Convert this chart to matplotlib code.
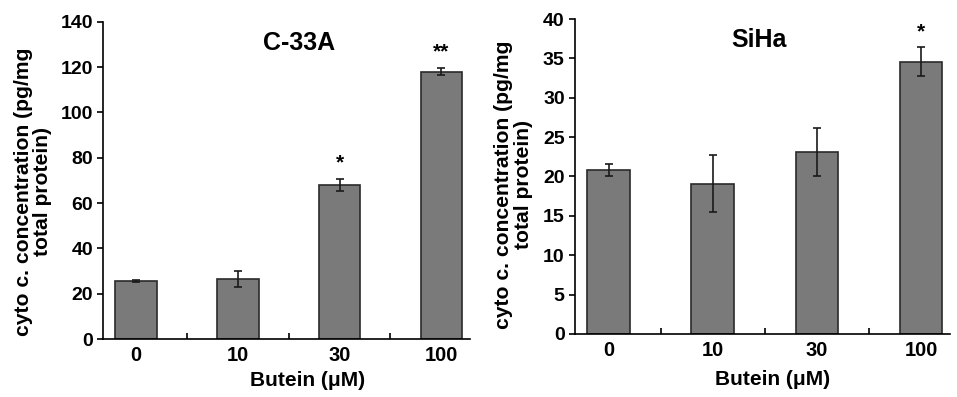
import numpy as np
import matplotlib.pyplot as plt

plt.rcParams['font.family'] = ['Liberation Sans', 'DejaVu Sans']
plt.rcParams['font.weight'] = 'bold'

doses = ["0", "10", "30", "100"]

c33a_mean = [25.5, 26.5, 68.0, 118.0]
c33a_err = [0.5, 3.5, 2.5, 1.5]
c33a_sig = ["", "", "*", "**"]

siha_mean = [20.8, 19.1, 23.1, 34.6]
siha_err = [0.8, 3.6, 3.1, 1.8]
siha_sig = ["", "", "", "*"]

fig = plt.figure(figsize=(9.57, 3.97), dpi=100)
ax1 = fig.add_axes([0.108, 0.146, 0.383, 0.799])
ax2 = fig.add_axes([0.601, 0.159, 0.392, 0.793])


def draw(ax, mean, err, sig, title, title_xy, ymax, ystep, star_off, ylab_xy, xlab_xy):
    x = np.arange(len(doses))
    ax.bar(x, mean, width=0.41, color="#7a7a7a", edgecolor="#2a2a2a", linewidth=1.2,
           yerr=err, capsize=3, error_kw=dict(ecolor="#1a1a1a", elinewidth=1.2, capthick=1.2))
    for xi, m, e, s in zip(x, mean, err, sig):
        if s:
            ax.text(xi, m + e + star_off, s, ha="center", va="bottom", fontsize=15, fontweight="bold")
    ax.set_xlim(-0.32, 3.28)
    ax.set_ylim(0, ymax)
    ax.set_yticks(np.arange(0, ymax + 1, ystep))
    ax.set_xticks(x)
    ax.set_xticklabels(doses)
    ax.tick_params(axis="x", length=0, labelsize=14.5, pad=5)
    ax.set_xticks([0.5, 1.5, 2.5], minor=True)
    ax.tick_params(axis="x", which="minor", direction="in", length=4, width=1.2)
    ax.tick_params(axis="y", direction="out", length=4, width=1.2, labelsize=14)
    for sp in ["top", "right"]:
        ax.spines[sp].set_visible(False)
    for sp in ["left", "bottom"]:
        ax.spines[sp].set_linewidth(1.2)
    ax.set_xlabel("Butein (μM)", fontsize=15, fontweight="bold", va="top")
    ax.xaxis.set_label_coords(*xlab_xy)
    ax.set_ylabel("cyto c. concentration (pg/mg\ntotal protein)", fontsize=15.2,
                  fontweight="bold", linespacing=1.05)
    ax.yaxis.set_label_coords(*ylab_xy)
    ax.text(title_xy[0], title_xy[1], title, transform=ax.transAxes, ha="center", va="center",
            fontsize=18, fontweight="bold")


draw(ax1, c33a_mean, c33a_err, c33a_sig, "C-33A", (0.534, 0.934), 140, 20, 3,
     (-0.139, 0.464), (0.556, -0.10))
draw(ax2, siha_mean, siha_err, siha_sig, "SiHa", (0.49, 0.933), 40, 5, 0.8,
     (-0.112, 0.473), (0.525, -0.114))

fig.savefig("out.png", dpi=100)
